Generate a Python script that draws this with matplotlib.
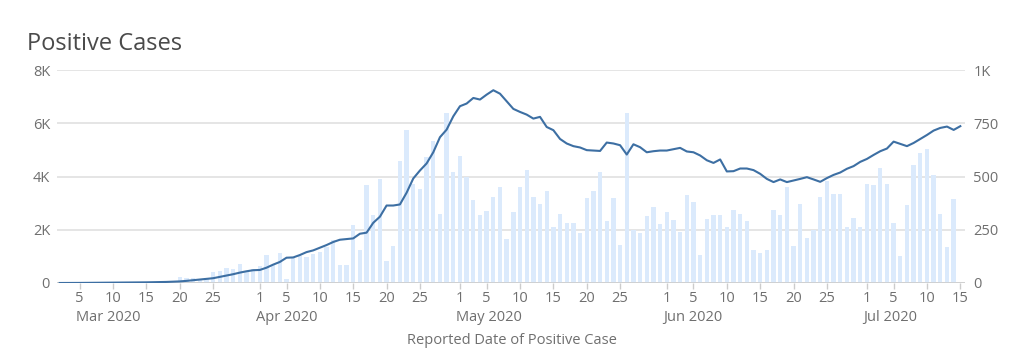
import numpy as np
import pandas as pd
import matplotlib
matplotlib.use("Agg")
import matplotlib.pyplot as plt
import matplotlib.dates as mdates
from matplotlib.transforms import blended_transform_factory

plt.rcParams['font.family'] = ['Open Sans', 'DejaVu Sans']

# daily positive cases (right axis), Mar 20 - Jul 14
bar_start = "2020-03-20"
bar_values = [
    28, 25, 22, 20, 22, 52, 58, 72, 67, 87, 56, 67,
    80, 130, 83, 139, 17, 119, 127, 122, 137, 145, 169, 202, 84, 84, 270, 155, 459, 319,
    487, 103, 173, 575, 720, 463, 439, 592, 669, 322, 798, 522,
    598, 497, 392, 317, 337, 403, 450, 205, 333, 450, 530, 405, 369, 434, 264, 325,
    280, 283, 237, 397, 433, 519, 289, 397, 180, 798, 247, 236, 314, 359, 277,
    334, 294, 241, 414, 381, 130, 302, 320, 317, 264, 345, 322, 292, 153, 139,
    153, 344, 317, 452, 175, 373, 211, 248, 406, 477, 416, 419, 261, 305, 261,
    466, 461, 538, 463, 283, 127, 364, 553, 609, 627, 509, 323, 169, 394,
]

# trend line (left axis), Mar 2 - Jul 15
line_start = "2020-03-02"
line_values = [
    0, 0, 2, 3, 5, 6, 8, 10, 12, 15, 17, 20, 22, 25, 30, 35, 40, 50, 60, 80,
    105, 130, 155, 180, 230, 280, 330, 390, 440, 480,
    490, 575, 690, 790, 950, 960, 1050, 1160, 1225, 1325, 1425, 1540, 1625, 1650, 1675,
    1850, 1890, 2260, 2490, 2910, 2910, 2950, 3390, 3925, 4225, 4490, 4910, 5475, 5760, 6260,
    6640, 6740, 6950, 6890, 7075, 7240, 7110, 6825, 6540, 6425, 6325, 6175, 6240, 5860, 5740,
    5410, 5240, 5140, 5090, 4990, 4975, 4960, 5275, 5240, 5175, 4825, 5210, 5100, 4910, 4950, 4975,
    4975, 5025, 5075, 4940, 4910, 4790, 4610, 4510, 4640, 4190, 4200, 4300, 4300, 4240, 4100,
    3910, 3790, 3890, 3790, 3850, 3910, 3975, 3890, 3800, 3940, 4060, 4150, 4290, 4390, 4550,
    4660, 4810, 4950, 5050, 5310, 5225, 5140, 5260, 5410, 5560, 5725, 5825, 5875, 5750, 5890,
]

left_ticks = [0, 2000, 4000, 6000, 8000]
left_labels = ["0", "2K", "4K", "6K", "8K"]
right_ticks = [0, 250, 500, 750, 1000]
right_labels = ["0", "250", "500", "750", "1K"]
month_labels = [("2020-03-05", "Mar 2020"), ("2020-04-01", "Apr 2020"),
                ("2020-05-01", "May 2020"), ("2020-06-01", "Jun 2020"),
                ("2020-07-01", "Jul 2020")]

bar_dates = pd.date_range(bar_start, periods=len(bar_values), freq="D")
line_dates = pd.date_range(line_start, periods=len(line_values), freq="D")

TEXT = "#6f6f6f"
GRID = "#e0e0e0"
FS = 10.5

fig = plt.figure(figsize=(10.23, 3.64), dpi=100)
ax = fig.add_axes([57 / 1023, 81 / 364, 908 / 1023, 213 / 364])
ax2 = ax.twinx()

# bars on the right axis, drawn below the line
ax2.bar(bar_dates, bar_values, width=0.65, color="#dbeafc", zorder=2)
ax2.set_ylim(0, 1000)
ax2.set_yticks(right_ticks)
ax2.set_yticklabels(right_labels)
ax2.yaxis.grid(True, color=GRID, linewidth=1.2, zorder=0)
ax2.set_axisbelow(True)

ax.plot(line_dates, line_values, color="#3d6fa3", linewidth=1.5, zorder=3)
ax.set_ylim(0, 8000)
ax.set_yticks(left_ticks)
ax.set_yticklabels(left_labels)
ax.set_zorder(ax2.get_zorder() + 1)
ax.patch.set_visible(False)

x0 = pd.Timestamp("2020-03-01")
ax.set_xlim(x0 + pd.Timedelta(days=0.6), x0 + pd.Timedelta(days=136.7))

tick_dates = []
for m in [3, 4, 5, 6, 7]:
    for d in [1, 5, 10, 15, 20, 25]:
        t = pd.Timestamp(2020, m, d)
        if pd.Timestamp("2020-03-02") <= t <= pd.Timestamp("2020-07-15"):
            tick_dates.append(t)
ax.set_xticks(tick_dates)
ax.set_xticklabels([str(t.day) for t in tick_dates])

for a in (ax, ax2):
    for s in a.spines.values():
        s.set_visible(False)
    a.tick_params(axis="y", length=0, labelsize=FS, labelcolor=TEXT)
ax.tick_params(axis="y", pad=5)
ax2.tick_params(axis="y", pad=6)
ax.tick_params(axis="x", length=4, width=1, color="#cccccc", labelsize=FS,
               labelcolor=TEXT, pad=2)
ax.axhline(0, color="#cccccc", linewidth=1.2, zorder=1)

trans = blended_transform_factory(ax.transData, ax.transAxes)
for d, lab in month_labels:
    ax.text(pd.Timestamp(d) - pd.Timedelta(days=0.6), -0.16, lab, transform=trans,
            ha="left", va="center", fontsize=FS, color=TEXT)

fig.text(0.5, 1 - 340 / 364, "Reported Date of Positive Case", ha="center",
         va="center", fontsize=FS, color=TEXT)
fig.text(27 / 1023, 1 - 49.5 / 364, "Positive Cases", ha="left", va="baseline",
         fontsize=17, color="#4a4a4a")

fig.savefig("out.png", dpi=100)
